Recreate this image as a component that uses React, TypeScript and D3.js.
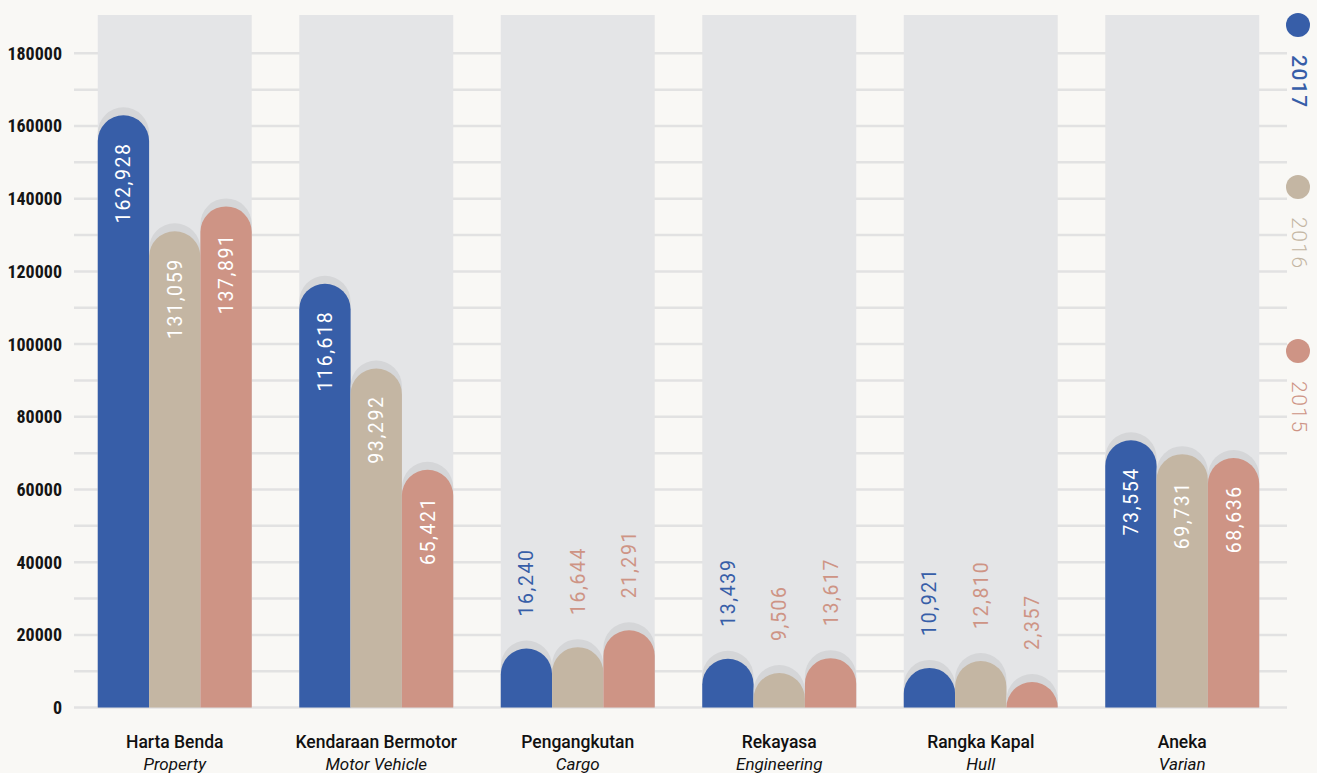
import React from "react";
import * as d3 from "d3";

const categories = ["Harta Benda", "Kendaraan Bermotor", "Pengangkutan", "Rekayasa", "Rangka Kapal", "Aneka"];
const subtitles = ["Property", "Motor Vehicle", "Cargo", "Engineering", "Hull", "Varian"];
const years = ["2017", "2016", "2015"];
const values2017 = [162928, 116618, 16240, 13439, 10921, 73554];
const values2016 = [131059, 93292, 16644, 9506, 12810, 69731];
const values2015 = [137891, 65421, 21291, 13617, 2357, 68636];
const yTickLabels = [0, 20000, 40000, 60000, 80000, 100000, 120000, 140000, 160000, 180000];
const gridValues = d3.range(0, 180001, 10000);

const seriesValues = [values2017, values2016, values2015];
const colors = ["#375ea8", "#c4b6a3", "#ce9485"];
const outsideLabelColors = ["#375ea8", "#ce9485", "#ce9485"];

const W = 1317;
const H = 773;

export default function App() {
  const x = d3.scaleBand<string>().domain(categories).range([74, 1283]).paddingInner(0.236).paddingOuter(0.118);
  const xs = d3.scaleBand<string>().domain(years).range([0, x.bandwidth()]);
  const y = d3.scaleLinear().domain([0, 180000]).range([707.6, 53.3]);
  const y0 = y(0);
  const fmt = d3.format(",");
  const bw = xs.bandwidth();
  const r = bw / 2;

  const barPath = (x0: number, top: number) => {
    const x1 = x0 + bw;
    return `M${x0},${y0}V${top + r}A${r},${r} 0 0 1 ${x1},${top + r}V${y0}Z`;
  };

  const uiFont = "Roboto, 'Noto Sans', sans-serif";
  const axisFont = "'Liberation Sans Narrow', 'Roboto Condensed', 'DejaVu Sans Condensed', Roboto, sans-serif";

  return (
    <svg width={W} height={H} style={{ position: "absolute", left: 0, top: 0 }}>
      <rect x={0} y={0} width={W} height={H} fill="#f9f8f5" />
      {gridValues.map((v) => (
        <line key={v} x1={74} x2={1287} y1={y(v)} y2={y(v)} stroke="#e2e2e2" strokeWidth={2.5} />
      ))}
      {categories.map((c) => (
        <rect key={c} x={x(c)} y={15} width={x.bandwidth()} height={y0 - 15} fill="#e4e5e7" />
      ))}
      {yTickLabels.map((v) => (
        <text key={v} x={62} y={y(v)} dy="0.36em" textAnchor="end" fontFamily={axisFont} fontWeight={700} fontSize={18} fill="#151515">
          {v}
        </text>
      ))}
      {categories.map((c, ci) => (
        <g key={c}>
          {years.map((yr, si) => {
            const v = seriesValues[si][ci];
            const x0 = (x(c) as number) + (xs(yr) as number);
            const top = Math.min(y(v), y0 - r);
            const cx = x0 + bw / 2;
            const inside = v > 30000;
            return (
              <g key={yr}>
                <path d={barPath(x0, top - 8)} fill="#d5d6d8" />
                <path d={barPath(x0, top)} fill={colors[si]} />
                {inside ? (
                  <text
                    transform={`translate(${cx},${top + 27}) rotate(-90)`}
                    dy="0.36em"
                    textAnchor="end"
                    fontFamily={uiFont}
                    fontSize={19.5}
                    letterSpacing={1.6}
                    fill="#fff"
                  >
                    {fmt(v)}
                  </text>
                ) : (
                  <text
                    transform={`translate(${cx},${top - 32}) rotate(-90)`}
                    dy="0.36em"
                    textAnchor="start"
                    fontFamily={uiFont}
                    fontSize={19.5}
                    letterSpacing={1.6}
                    fill={outsideLabelColors[si]}
                  >
                    {fmt(v)}
                  </text>
                )}
              </g>
            );
          })}
          <text x={(x(c) as number) + x.bandwidth() / 2} y={748} textAnchor="middle" fontFamily={uiFont} fontWeight={500} fontSize={17.5} fill="#111">
            {c}
          </text>
          <text x={(x(c) as number) + x.bandwidth() / 2} y={770} textAnchor="middle" fontFamily={uiFont} fontStyle="italic" fontSize={17} fill="#111">
            {subtitles[ci]}
          </text>
        </g>
      ))}
      {years.map((yr, i) => {
        const cy = [25, 187, 351][i];
        return (
          <g key={yr}>
            <circle cx={1298} cy={cy} r={12} fill={colors[i]} />
            <text
              transform={`translate(1300,${cy + 30}) rotate(90)`}
              dy="0.36em"
              textAnchor="start"
              fontFamily={uiFont}
              fontWeight={i === 0 ? 500 : 300}
              fontSize={21}
              letterSpacing={1.5}
              fill={colors[i]}
            >
              {yr}
            </text>
          </g>
        );
      })}
    </svg>
  );
}
